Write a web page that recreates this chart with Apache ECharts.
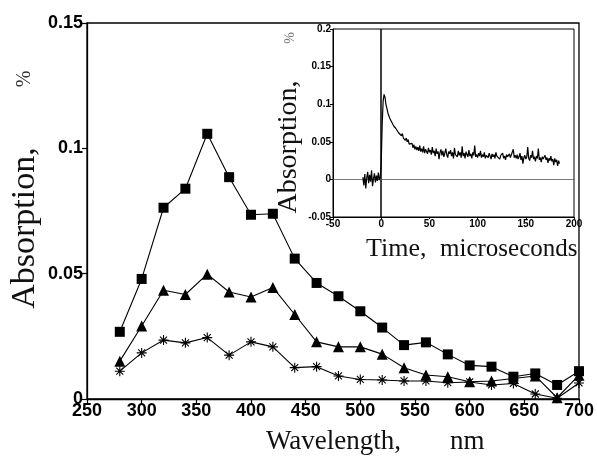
<!DOCTYPE html>
<html><head><meta charset="utf-8">
<script src="https://cdn.jsdelivr.net/npm/echarts@6/dist/echarts.min.js"></script>
<style>html,body{margin:0;padding:0;background:#fff}#c{width:597px;height:457px}</style>
</head><body><div id="c"></div>
<script>
// Main chart: wavelength (nm)
var wavelengths = [280,300,320,340,360,380,400,420,440,460,480,500,520,540,560,580,600,620,640,660,680,700];
var squareSeries = [0.0268,0.0479,0.0763,0.0839,0.1058,0.0885,0.0735,0.0739,0.0560,0.0463,0.0410,0.0350,0.0285,0.0215,0.0226,0.0178,0.0134,0.0129,0.0089,0.0102,0.0056,0.0111];
var triangleSeries = [0.0151,0.0291,0.0434,0.0417,0.0498,0.0427,0.0407,0.0445,0.0337,0.0228,0.0208,0.0208,0.0179,0.0125,0.0096,0.0089,0.0069,0.0072,0.0082,0.0092,0.0005,0.0095];
var starSeries = [0.0111,0.0184,0.0235,0.0224,0.0245,0.0175,0.0228,0.0208,0.0125,0.0129,0.0092,0.0078,0.0076,0.0072,0.0072,0.0065,0.0068,0.0056,0.0062,0.0020,0.0003,0.0064];

// Inset: transient absorption trace, sampled every 1 microsecond starting at -19
var traceStart = -19;
var traceStep = 1;
var traceValues = [
0.003,-0.008,0.007,-0.012,0.002,0.010,-0.005,0.006,-0.003,0.012,-0.009,0.001,0.008,-0.004,0.005,-0.002,0.009,-0.001,0.004,
0.020,0.072,0.104,0.113,0.109,0.099,0.094,0.088,0.086,0.081,0.083,
0.076,0.078,0.071,0.073,0.068,0.066,0.069,0.062,0.064,0.060,
0.058,0.061,0.055,0.057,0.052,0.055,0.050,0.053,0.047,0.049,
0.045,0.048,0.042,0.046,0.040,0.044,0.039,0.043,0.038,0.045,
0.037,0.041,0.036,0.044,0.035,0.040,0.038,0.034,0.042,0.036,
0.039,0.033,0.043,0.035,0.038,0.031,0.041,0.034,0.037,0.027,
0.036,0.040,0.032,0.038,0.030,0.035,0.041,0.033,0.029,0.037,
0.034,0.039,0.031,0.036,0.028,0.042,0.033,0.035,0.030,0.038,
0.032,0.036,0.029,0.044,0.031,0.035,0.028,0.037,0.033,0.030,
0.039,0.031,0.034,0.028,0.036,0.032,0.045,0.030,0.033,0.029,
0.035,0.031,0.038,0.029,0.033,0.030,0.036,0.028,0.032,0.034,
0.029,0.035,0.031,0.027,0.034,0.030,0.033,0.028,0.036,0.031,
0.029,0.033,0.027,0.032,0.030,0.035,0.028,0.031,0.026,0.033,
0.030,0.028,0.034,0.029,0.031,0.027,0.040,0.029,0.032,0.028,
0.033,0.027,0.030,0.035,0.026,0.031,0.021,0.029,0.032,0.027,
0.030,0.043,0.028,0.025,0.032,0.029,0.038,0.027,0.030,0.024,
0.031,0.028,0.041,0.026,0.029,0.023,0.030,0.027,0.025,0.032,
0.026,0.029,0.022,0.028,0.025,0.031,0.024,0.027,0.019,0.028,
0.023,0.026,0.018,0.025,0.021];

var mainXTicks = [250,700,50];
var mainYTicks = [0,0.15,0.05];
var insetXTicks = [-50,200,50];
var insetYTicks = [-0.05,0.2,0.05];

function pairs(xs, ys){ return xs.map(function(x,i){return [x, ys[i]];}); }
var traceData = traceValues.map(function(v,i){ return [traceStart + i*traceStep, v]; });

var chart = echarts.init(document.getElementById('c'), null, {renderer:'canvas'});
var serif = '"Liberation Serif", "DejaVu Serif", serif';
var sans = '"Liberation Sans", Arial, sans-serif';
var starPath = 'path://M0,5L10,5M1.5,1.5L8.5,8.5M8.5,1.5L1.5,8.5M5,0L5,10';

var option = {
  animation: false,
  backgroundColor: '#fff',
  grid: [
    {left: 87, right: 12, top: 23, bottom: 58, show: true, borderColor: '#000', borderWidth: 1.3, backgroundColor: 'transparent'},
    {left: 333, right: 23, top: 29, bottom: 240, show: true, borderColor: '#000', borderWidth: 1, backgroundColor: 'transparent'}
  ],
  xAxis: [
    {gridIndex: 0, type: 'value', min: mainXTicks[0], max: mainXTicks[1], interval: mainXTicks[2],
     axisLine: {onZero: false, lineStyle: {color: '#000', width: 1.3}},
     axisTick: {inside: false, length: 5, lineStyle: {color: '#000', width: 1.2}},
     axisLabel: {color: '#000', fontFamily: sans, fontWeight: 'bold', fontSize: 18, margin: 3},
     splitLine: {show: false}},
    {gridIndex: 1, type: 'value', min: insetXTicks[0], max: insetXTicks[1], interval: insetXTicks[2],
     axisLine: {onZero: false, lineStyle: {color: '#000', width: 1}},
     axisTick: {inside: false, length: 2, lineStyle: {color: '#000'}},
     axisLabel: {color: '#000', fontFamily: sans, fontWeight: 'bold', fontSize: 10, margin: 2},
     splitLine: {show: false}}
  ],
  yAxis: [
    {gridIndex: 0, type: 'value', min: mainYTicks[0], max: mainYTicks[1], interval: mainYTicks[2],
     axisLine: {onZero: false, lineStyle: {color: '#000', width: 1.3}},
     axisTick: {inside: false, length: 5, lineStyle: {color: '#000', width: 1.2}},
     axisLabel: {color: '#000', fontFamily: sans, fontWeight: 'bold', fontSize: 18, margin: 4},
     splitLine: {show: false}},
    {gridIndex: 1, type: 'value', min: insetYTicks[0], max: insetYTicks[1], interval: insetYTicks[2],
     axisLine: {onZero: false, lineStyle: {color: '#000', width: 1}},
     axisTick: {inside: false, length: 3, lineStyle: {color: '#000'}},
     axisLabel: {color: '#000', fontFamily: sans, fontWeight: 'bold', fontSize: 10, margin: 2},
     splitLine: {show: false}}
  ],
  series: [
    {type: 'line', xAxisIndex: 0, yAxisIndex: 0, data: pairs(wavelengths, starSeries),
     symbol: starPath, symbolSize: 10, z: 3,
     itemStyle: {color: '#000', borderColor: '#000', borderWidth: 1.1},
     lineStyle: {color: '#000', width: 1.1}},
    {type: 'line', xAxisIndex: 0, yAxisIndex: 0, data: pairs(wavelengths, triangleSeries),
     symbol: 'triangle', symbolSize: 11, z: 4,
     itemStyle: {color: '#000'}, lineStyle: {color: '#000', width: 1.1}},
    {type: 'line', xAxisIndex: 0, yAxisIndex: 0, data: pairs(wavelengths, squareSeries),
     symbol: 'rect', symbolSize: 10, z: 5,
     itemStyle: {color: '#000'}, lineStyle: {color: '#000', width: 1.1}},
    {type: 'line', xAxisIndex: 1, yAxisIndex: 1, data: traceData,
     showSymbol: false, symbol: 'none', z: 6,
     lineStyle: {color: '#000', width: 1.2},
     markLine: {silent: true, symbol: 'none', label: {show: false},
       data: [
         {xAxis: 0, lineStyle: {color: '#000', width: 1.5, type: 'solid'}},
         {yAxis: 0, lineStyle: {color: '#555', width: 0.8, type: 'solid'}}
       ]}}
  ],
  graphic: [
    {type: 'text', x: 25, y: 228, rotation: Math.PI/2,
     style: {text: 'Absorption,', font: 'normal 34px ' + serif, fill: '#111', textAlign: 'center', textVerticalAlign: 'middle'}},
    {type: 'text', x: 25, y: 79, rotation: Math.PI/2,
     style: {text: '%', font: 'normal 20px ' + serif, fill: '#333', textAlign: 'center', textVerticalAlign: 'middle'}},
    {type: 'text', x: 266, y: 442,
     style: {text: 'Wavelength,', font: 'normal 27px ' + serif, fill: '#111', textAlign: 'left', textVerticalAlign: 'middle'}},
    {type: 'text', x: 450, y: 442,
     style: {text: 'nm', font: 'normal 27px ' + serif, fill: '#111', textAlign: 'left', textVerticalAlign: 'middle'}},
    {type: 'text', x: 366, y: 249,
     style: {text: 'Time,', font: 'normal 26px ' + serif, fill: '#111', textAlign: 'left', textVerticalAlign: 'middle'}},
    {type: 'text', x: 440, y: 249,
     style: {text: 'microseconds', font: 'normal 25px ' + serif, fill: '#111', textAlign: 'left', textVerticalAlign: 'middle'}},
    {type: 'text', x: 289, y: 147, rotation: Math.PI/2,
     style: {text: 'Absorption,', font: 'normal 28px ' + serif, fill: '#111', textAlign: 'center', textVerticalAlign: 'middle'}},
    {type: 'text', x: 290, y: 38, rotation: Math.PI/2,
     style: {text: '%', font: 'normal 14px ' + serif, fill: '#777', textAlign: 'center', textVerticalAlign: 'middle'}}
  ]
};
chart.setOption(option);
</script>
</body></html>
